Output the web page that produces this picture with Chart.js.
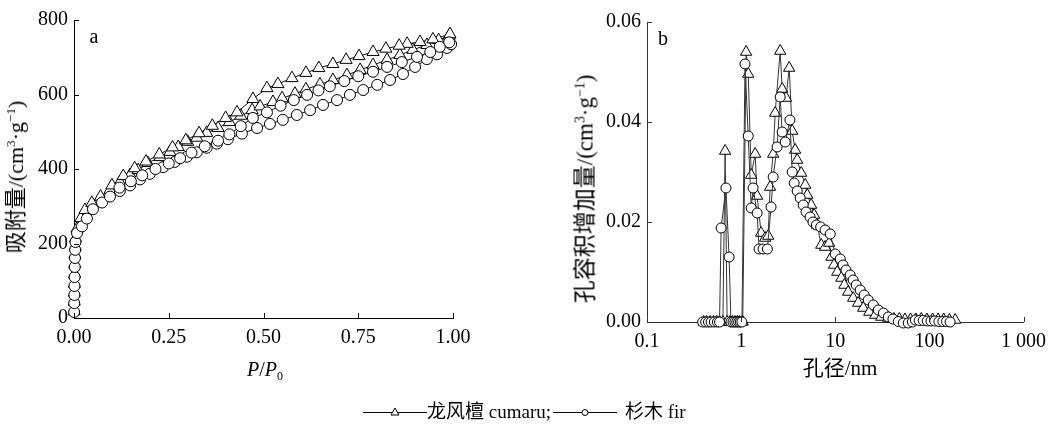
<!DOCTYPE html>
<html>
<head>
<meta charset="utf-8">
<script src="https://cdn.jsdelivr.net/npm/chart.js@4.4.0/dist/chart.umd.min.js"></script>
<style>
  body { margin: 0; background: #fff; }
  #wrap { position: relative; width: 1054px; height: 428px; overflow: hidden;
          font-family: "Liberation Serif", "Noto Sans CJK SC", serif; color: #000; }
  canvas { position: absolute; top: 0; }
  .txt { position: absolute; white-space: nowrap; line-height: 1; transform: translate(-50%, -50%); }
  .ytitle { position: absolute; white-space: nowrap; line-height: 1; font-size: 22px;
            transform: translate(-50%, -50%) rotate(-90deg); }
  sup { font-size: 60%; vertical-align: 0.6em; line-height: 0; }
  sub { font-size: 60%; vertical-align: -0.3em; line-height: 0; }
  #legend { position: absolute; left: 363px; top: 402px; display: flex; align-items: center;
            font-size: 19px; line-height: 1; white-space: nowrap; }
  #legend svg { display: block; }
</style>
</head>
<body>
<div id="wrap">
  <canvas id="chart-a" width="480" height="380" style="left:0"></canvas>
  <canvas id="chart-b" width="514" height="380" style="left:540px"></canvas>

  <div class="txt" style="left:94px;top:36px;font-size:20px">a</div>
  <div class="txt" style="left:663px;top:38px;font-size:20px">b</div>

  <div class="ytitle" style="left:16px;top:177px">吸附量/(cm<sup>3</sup>·g<sup>−1</sup>)</div>
  <div class="ytitle" style="left:585px;top:189px;font-size:23px">孔容积增加量/(cm<sup>3</sup>·g<sup>−1</sup>)</div>

  <div class="txt" style="left:265px;top:369px;font-size:20px"><i>P</i>/<i>P</i><sub>0</sub></div>
  <div class="txt" style="left:840px;top:368px;font-size:21px">孔径/nm</div>

  <div id="legend">
    <svg width="64" height="12"><line x1="0" y1="6.5" x2="64" y2="6.5" stroke="#000" stroke-width="1"/>
      <polygon points="32,2 36,9 28,9" fill="#fff" stroke="#000" stroke-width="1"/></svg>
    <span>龙风檀 cumaru;</span>
    <svg width="64" height="12" style="margin-left:2px"><line x1="0" y1="6.5" x2="64" y2="6.5" stroke="#000" stroke-width="1"/>
      <circle cx="32" cy="6.5" r="3" fill="#fff" stroke="#000" stroke-width="1"/></svg>
    <span style="margin-left:8px">杉木 fir</span>
  </div>
</div>

<script>
// a — N2 adsorption/desorption isotherms (P/P0 vs cm3/g)
const cumaruAdsP = [0.0003, 0.0006, 0.0009, 0.0012, 0.0016, 0.002, 0.0025, 0.003, 0.004, 0.008, 0.018, 0.029, 0.047, 0.07, 0.095, 0.121, 0.148, 0.169, 0.195, 0.227, 0.253, 0.275, 0.30, 0.324, 0.35, 0.38, 0.41, 0.44, 0.47, 0.491, 0.525, 0.549, 0.583, 0.612, 0.649, 0.683, 0.72, 0.755, 0.789, 0.826, 0.86, 0.894, 0.931, 0.962, 0.99];
const cumaruAdsV = [18, 44, 68, 92, 118, 145, 170, 192, 214, 240, 268, 290, 309, 326, 344, 365, 384, 397, 416, 432, 446, 459, 473, 484, 497, 510, 526, 543, 558, 568, 580, 590, 602, 614, 627, 639, 652, 666, 679, 693, 706, 720, 733, 746, 758];
const cumaruDesP = [0.992, 0.947, 0.913, 0.879, 0.858, 0.823, 0.789, 0.752, 0.718, 0.683, 0.646, 0.612, 0.575, 0.538, 0.509, 0.472, 0.43, 0.40, 0.365, 0.33, 0.295, 0.26, 0.225, 0.19, 0.16, 0.13, 0.10];
const cumaruDesV = [762, 748, 741, 736, 731, 723, 714, 703, 693, 682, 671, 658, 644, 628, 617, 588, 552, 537, 516, 496, 477, 458, 439, 420, 402, 381, 356];

const firAdsP = [0.0003, 0.0006, 0.0009, 0.0012, 0.0016, 0.002, 0.0025, 0.003, 0.004, 0.008, 0.021, 0.034, 0.05, 0.074, 0.095, 0.121, 0.148, 0.174, 0.2, 0.235, 0.266, 0.298, 0.324, 0.35, 0.377, 0.406, 0.443, 0.483, 0.517, 0.551, 0.588, 0.623, 0.657, 0.694, 0.728, 0.763, 0.8, 0.834, 0.868, 0.9, 0.931, 0.958, 0.984, 0.995];
const firAdsV = [16, 40, 62, 86, 110, 137, 161, 183, 204, 228, 246, 267, 292, 310, 326, 341, 356, 372, 387, 405, 419, 433, 445, 457, 468, 480, 495, 510, 521, 532, 545, 558, 572, 585, 599, 612, 626, 639, 655, 674, 695, 708, 725, 735];
const firDesP = [0.99, 0.965, 0.94, 0.905, 0.865, 0.826, 0.789, 0.75, 0.713, 0.675, 0.645, 0.615, 0.58, 0.545, 0.509, 0.472, 0.44, 0.41, 0.38, 0.345, 0.31, 0.28, 0.25, 0.215, 0.18, 0.15, 0.12];
const firDesV = [740, 728, 714, 701, 687, 674, 661, 649, 636, 622, 611, 599, 585, 570, 552, 537, 515, 493, 476, 461, 444, 429, 415, 400, 383, 367, 350];

// b — pore size distribution (nm vs cm3/g)
const cumaruPoreD = [0.40, 0.43, 0.47, 0.51, 0.55, 0.59, 0.64, 0.676, 0.71, 0.76, 0.81, 0.86, 0.91, 0.96, 1.04, 1.13, 1.19, 1.28, 1.41, 1.48, 1.63, 1.8, 1.94, 2.03, 2.19, 2.3, 2.6, 2.73, 3.0, 3.24, 3.49, 3.75, 3.94, 4.35, 4.8, 5.04, 5.55, 5.97, 6.43, 7.1, 7.8, 8.6, 9.1, 9.7, 10.5, 11.6, 12.5, 13.7, 15.5, 17.5, 19.8, 23, 26.6, 30.8, 36.6, 42, 48, 55, 63, 72, 82, 94, 108, 124, 142, 163, 188];
const cumaruPoreV = [0, 0, 0, 0, 0, 0, 0, 0.0342, 0, 0, 0, 0, 0, 0, 0, 0.054, 0.0496, 0.0294, 0.0336, 0.0252, 0.0178, 0.0168, 0.0172, 0.027, 0.0336, 0.0418, 0.0542, 0.0466, 0.0448, 0.0508, 0.0382, 0.0344, 0.0324, 0.0298, 0.0274, 0.0254, 0.0234, 0.0214, 0.0194, 0.0154, 0.015, 0.0158, 0.013, 0.0114, 0.01, 0.0088, 0.0074, 0.006, 0.0048, 0.0038, 0.0028, 0.002, 0.0014, 0.001, 0.0008, 0.0006, 0.0006, 0.0005, 0.0005, 0.0005, 0.0006, 0.0005, 0.0005, 0.0005, 0.0005, 0.0004, 0.0004];
const firPoreD = [0.39, 0.42, 0.45, 0.48, 0.52, 0.56, 0.59, 0.613, 0.69, 0.745, 0.78, 0.82, 0.86, 0.9, 0.94, 0.98, 1.02, 1.10, 1.19, 1.28, 1.34, 1.48, 1.55, 1.71, 1.9, 2.08, 2.19, 2.41, 2.6, 2.73, 2.94, 3.3, 3.49, 3.66, 3.94, 4.24, 4.57, 4.9, 5.4, 5.8, 6.3, 7.0, 7.8, 8.85, 10.0, 11.3, 12.1, 13.0, 14.4, 15.5, 16.7, 18.4, 20.3, 22.4, 25.4, 28.7, 32.5, 36.6, 41, 46.8, 52.8, 59.6, 66, 71, 78, 86, 95, 104, 114, 126, 139, 152, 166];
const firPoreV = [0, 0, 0, 0, 0, 0, 0, 0.0188, 0.0268, 0.013, 0, 0, 0, 0, 0, 0, 0, 0.0516, 0.0372, 0.0228, 0.0268, 0.0218, 0.0146, 0.0146, 0.0146, 0.023, 0.029, 0.035, 0.045, 0.038, 0.036, 0.0404, 0.030, 0.0278, 0.0262, 0.0248, 0.0234, 0.022, 0.021, 0.020, 0.0194, 0.019, 0.0184, 0.0176, 0.0136, 0.0126, 0.0114, 0.0104, 0.0094, 0.0084, 0.0074, 0.0064, 0.0054, 0.0044, 0.0034, 0.0024, 0.0018, 0.001, 0.0006, 0.0001, -0.0002, -0.0002, 0, 0.0004, 0.0003, 0.0003, 0.0002, 0.0002, 0.0002, 0.0001, 0.0001, 0.0001, 0];

// ticks
const xTicksA = [0, 0.25, 0.5, 0.75, 1];
const xTickLabelsA = ['0.00', '0.25', '0.50', '0.75', '1.00'];
const yTicksA = [0, 200, 400, 600, 800];
const yTickLabelsA = ['0', '200', '400', '600', '800'];
const xTicksB = [0.1, 1, 10, 100, 1000];
const xTickLabelsB = ['0.1', '1', '10', '100', '1 000'];
const yTicksB = [0, 0.02, 0.04, 0.06];
const yTickLabelsB = ['0.00', '0.02', '0.04', '0.06'];

const FONT = { family: '"Liberation Serif", "Noto Sans CJK SC", serif', size: 20 };
Chart.defaults.animation = false;

const toPoints = (xs, ys) => xs.map((x, i) => ({ x, y: ys[i] }));

// tick marks pointing into the plot
const innerTicks = {
    id: 'innerTicks',
    afterDraw(chart, args, opts) {
        const { ctx, chartArea: area } = chart;
        const xs = chart.scales.x, ys = chart.scales.y;
        ctx.save();
        ctx.strokeStyle = opts.color || '#000';
        ctx.lineWidth = 1;
        ctx.beginPath();
        xs.ticks.forEach(t => {
            const px = Math.round(xs.getPixelForValue(t.value)) + 0.5;
            ctx.moveTo(px, area.bottom);
            ctx.lineTo(px, area.bottom - 5);
        });
        ys.ticks.forEach(t => {
            const py = Math.round(ys.getPixelForValue(t.value)) + 0.5;
            ctx.moveTo(area.left, py);
            ctx.lineTo(area.left + 5, py);
        });
        ctx.stroke();
        ctx.restore();
    }
};

function series(data, style, radius, order, line) {
    return {
        data,
        showLine: true,
        borderColor: line,
        borderWidth: 1,
        pointStyle: style,
        pointRadius: radius,
        pointBorderColor: '#000',
        pointBorderWidth: 1,
        pointBackgroundColor: '#fff',
        order,
        clip: false
    };
}

function axis(type, min, max, ticks, labels, axisColor, side, size) {
    return {
        type, min, max,
        grid: { display: false, drawTicks: false },
        border: { display: true, color: axisColor, width: 1 },
        afterBuildTicks: s => { s.ticks = ticks.map(v => ({ value: v })); },
        afterFit: s => { if (side === 'x') s.height = size; else s.width = size; },
        ticks: {
            autoSkip: false, maxRotation: 0, color: '#000', font: FONT,
            padding: side === 'x' ? 8 : 6,
            callback: (v, i) => labels[i]
        }
    };
}

function makeConfig(datasets, xAxis, yAxis, padding, axisColor) {
    return {
        type: 'scatter',
        data: { datasets },
        options: {
            responsive: false,
            maintainAspectRatio: false,
            layout: { padding },
            plugins: { legend: { display: false }, tooltip: { enabled: false }, innerTicks: { color: axisColor } },
            scales: { x: xAxis, y: yAxis }
        },
        plugins: [innerTicks]
    };
}

// panel a
new Chart(document.getElementById('chart-a'), makeConfig(
    [
        series(toPoints(cumaruAdsP.concat(cumaruDesP), cumaruAdsV.concat(cumaruDesV)), 'triangle', 7, 2, '#111'),
        series(toPoints(firAdsP.concat(firDesP), firAdsV.concat(firDesV)), 'circle', 5.5, 1, '#111')
    ],
    axis('linear', 0, 1, xTicksA, xTickLabelsA, '#000', 'x', 62),
    axis('linear', 0, 800, yTicksA, yTickLabelsA, '#000', 'y', 74),
    { top: 20, right: 27, left: 0, bottom: 0 },
    '#000'
));

// panel b
new Chart(document.getElementById('chart-b'), makeConfig(
    [
        series(toPoints(cumaruPoreD, cumaruPoreV), 'triangle', 6.5, 2, '#333'),
        series(toPoints(firPoreD, firPoreV), 'circle', 5, 1, '#333')
    ],
    axis('logarithmic', 0.1, 1000, xTicksB, xTickLabelsB, '#333', 'x', 58),
    axis('linear', 0, 0.06, yTicksB, yTickLabelsB, '#333', 'y', 107),
    { top: 22, right: 30, left: 0, bottom: 0 },
    '#333'
));
</script>
</body>
</html>
